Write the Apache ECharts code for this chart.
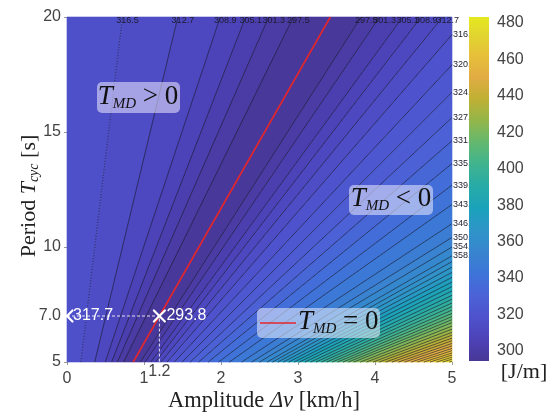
<!DOCTYPE html>
<html><head><meta charset="utf-8">
<script src="https://cdn.jsdelivr.net/npm/echarts@6/dist/echarts.min.js"></script>
<style>html,body{margin:0;padding:0;background:#fff}#c{width:553px;height:417px}</style>
</head><body><div id="c"></div>
<script>
// ---------------- data ----------------
const xTicks = [0, 1, 2, 3, 4, 5];
const yTicks = [5, 7, 10, 15, 20];
const colorbarTicks = [300, 320, 340, 360, 380, 400, 420, 440, 460, 480];
const colorbarMin = 294.4;
const colorbarMax = 483.3;
const energyAtZeroAmplitude = 317.7;   // value at Δv = 0
const energyMin = 293.8;               // value on the T_MD = 0 valley
// Contour lines are (nearly) rays Δv = slope · T ; slope read where each line meets the frame
const leftLevels = [316.5, 312.7, 308.9, 305.1, 301.3, 297.5];
const leftSlopes = [0.036, 0.072, 0.0995, 0.116, 0.131, 0.147];
const rightLevels = [297.5, 301.3, 305.1, 308.9, 312.7, 316.5, 320.3, 324.1, 327.9, 331.7,
  335.5, 339.3, 343.1, 346.9, 350.7, 354.5, 358.3, 362.1, 365.9, 369.7,
  373.5, 377.3, 381.1, 384.9, 388.7, 392.5, 396.3, 400.1, 403.9, 407.7,
  411.5, 415.3, 419.1, 422.9, 426.7, 430.5, 434.3, 438.1, 441.9, 445.7,
  449.5, 453.3, 457.1, 460.9, 464.7, 468.5, 472.3, 476.1, 479.9];
const rightSlopes = [0.191, 0.203, 0.218, 0.230, 0.244, 0.260, 0.279, 0.299, 0.320, 0.342,
  0.367, 0.394, 0.422, 0.454, 0.480, 0.500, 0.520, 0.534, 0.548, 0.562,
  0.576, 0.590, 0.604, 0.618, 0.633, 0.647, 0.661, 0.675, 0.689, 0.703,
  0.717, 0.731, 0.745, 0.762, 0.778, 0.795, 0.811, 0.828, 0.844, 0.861,
  0.877, 0.894, 0.910, 0.927, 0.943, 0.960, 0.976, 0.993, 1.009];
const rightEdgeLabelCount = 17;   // right contours labelled (top or right frame)
const tmdZeroLine = [[0.86, 5], [3.42, 20]];
const refPoint = [0, 7.0], refValue = '317.7';
const opPoint = [1.2, 7.0], opValue = '293.8';

// ---------------- colour map (parula, as printed) ----------------
const parula = [
  [0.2422,0.1504,0.6603],[0.2706,0.2147,0.8364],[0.2813,0.3006,0.9414],[0.2699,0.3892,0.9906],
  [0.1963,0.4847,0.9892],[0.1687,0.5703,0.9359],[0.1248,0.6459,0.8883],[0.0297,0.7082,0.8163],
  [0.0964,0.7500,0.7120],[0.2161,0.7843,0.5923],[0.3909,0.8029,0.4354],[0.6174,0.7876,0.2612],
  [0.8203,0.7498,0.1535],[0.9728,0.7298,0.2394],[0.9892,0.8136,0.1885],[0.9597,0.9135,0.1423],
  [0.9769,0.9839,0.0805]];
const parulaPos = [0,4,8,12,16,20,24,28,32,36,40,44,48,52,56,60,63].map(i => i / 63);
const mute = [95, 95, 110];
function toRGB(c, t) {
  const mk = 0.30 - 0.18 * t;
  return 'rgb(' + c.map((v, j) => Math.round(v * 255 * (1 - mk) + mute[j] * mk)).join(',') + ')';
}
function pal(v) {
  let t = (v - colorbarMin) / (colorbarMax - colorbarMin);
  t = Math.max(0, Math.min(1, t));
  for (let i = 0; i < parulaPos.length - 1; i++) {
    if (t <= parulaPos[i + 1]) {
      const f = (t - parulaPos[i]) / (parulaPos[i + 1] - parulaPos[i]);
      return toRGB(parula[i].map((a, j) => a + (parula[i + 1][j] - a) * f), t);
    }
  }
  return toRGB(parula[parula.length - 1], 1);
}
const barStops = parula.map((c, i) => ({offset: parulaPos[i], color: toRGB(c, parulaPos[i])}));

// ---------------- geometry helpers ----------------
const frame = [[0, 5], [5, 5], [5, 20], [0, 20]];
function clipHalf(poly, s, keepRight) {
  const out = [];
  const f = p => (p[0] - s * p[1]) * (keepRight ? 1 : -1);
  for (let i = 0; i < poly.length; i++) {
    const a = poly[i], b = poly[(i + 1) % poly.length];
    const fa = f(a), fb = f(b);
    if (fa >= 0) out.push(a);
    if ((fa >= 0) !== (fb >= 0)) {
      const t = fa / (fa - fb);
      out.push([a[0] + t * (b[0] - a[0]), a[1] + t * (b[1] - a[1])]);
    }
  }
  return out;
}
function rayEnds(s) {
  if (5 * s > 5) return null;
  const p1 = [5 * s, 5];
  const p2 = (20 * s <= 5) ? [20 * s, 20] : [5, 5 / s];
  return [p1, p2];
}

// bands between successive contour rays
const bounds = [0].concat(leftSlopes, rightSlopes, [10]);
const boundLevel = [energyAtZeroAmplitude].concat(leftLevels, rightLevels, [colorbarMax]);
const bandData = [];
for (let i = 0; i < bounds.length - 1; i++) {
  const a = boundLevel[i], b = boundLevel[i + 1];
  const v = (a === b) ? (a + energyMin) / 2 : (a + b) / 2;
  bandData.push([bounds[i], bounds[i + 1], v]);
}
const contourData = leftSlopes.map((s, i) => [s, leftLevels[i], i === 0 ? 1 : 0])
  .concat(rightSlopes.map((s, i) => [s, rightLevels[i], 0]));

const labelTexts = [], labelData = [];
leftLevels.forEach((lv, i) => { labelData.push([leftSlopes[i] * 20, 20, 0]); labelTexts.push(lv.toFixed(1)); });
rightLevels.slice(0, rightEdgeLabelCount).forEach((lv, i) => {
  const s = rightSlopes[i];
  if (s * 20 <= 5) labelData.push([s * 20, 20, 0]); else labelData.push([5, 5 / s, 1]);
  labelTexts.push(lv.toFixed(1));
});

const SANS = 'Liberation Sans', SERIF = 'Liberation Serif';
const chart = echarts.init(document.getElementById('c'), null, {width: 553, height: 417});

const boxRich = {
  t: {fontFamily: SERIF, fontStyle: 'italic', fontSize: 27, lineHeight: 29, fill: '#111'},
  s: {fontFamily: SERIF, fontStyle: 'italic', fontSize: 15, lineHeight: 12, verticalAlign: 'bottom', fill: '#111'},
  n: {fontFamily: SERIF, fontSize: 27, lineHeight: 29, fill: '#111'}
};

chart.setOption({
  animation: false,
  backgroundColor: '#ffffff',
  grid: [
    {left: 67, right: 101, top: 17, bottom: 55},
    {left: 469, width: 20, top: 17, bottom: 56}
  ],
  xAxis: [
    {gridIndex: 0, type: 'value', min: 0, max: 5, interval: 1,
      axisLine: {show: false}, splitLine: {show: false},
      axisTick: {show: true, length: 3, lineStyle: {color: '#999'}},
      axisLabel: {fontFamily: SANS, fontSize: 16, color: '#444', margin: 9}},
    {gridIndex: 1, type: 'value', min: 0, max: 1, show: false}
  ],
  yAxis: [
    {gridIndex: 0, type: 'value', min: 5, max: 20,
      axisLine: {show: false}, splitLine: {show: false},
      axisTick: {show: true, length: 3, customValues: [5, 10, 15, 20], lineStyle: {color: '#999'}},
      axisLabel: {fontFamily: SANS, fontSize: 16, color: '#444', margin: 6,
        customValues: yTicks, formatter: v => (v === 7 ? '7.0' : String(v))}},
    {gridIndex: 1, type: 'value', min: colorbarMin, max: colorbarMax, position: 'right',
      axisLine: {show: false}, splitLine: {show: false},
      axisTick: {show: true, length: 3, customValues: colorbarTicks, lineStyle: {color: '#777'}},
      axisLabel: {fontFamily: SANS, fontSize: 16, color: '#444', margin: 8, customValues: colorbarTicks}}
  ],
  series: [
    { // filled bands
      type: 'custom', xAxisIndex: 0, yAxisIndex: 0, silent: true, z: 1,
      data: bandData,
      renderItem: (params, api) => {
        const d = bandData[params.dataIndex];
        let poly = clipHalf(frame, d[0], true);
        poly = clipHalf(poly, d[1], false);
        if (poly.length < 3) return null;
        const c = pal(d[2]);
        return {type: 'polygon', shape: {points: poly.map(p => api.coord(p))},
          style: {fill: c, stroke: c, lineWidth: 0.6}};
      }
    },
    { // contour lines
      type: 'custom', xAxisIndex: 0, yAxisIndex: 0, silent: true, z: 2,
      data: contourData,
      renderItem: (params, api) => {
        const d = contourData[params.dataIndex];
        const e = rayEnds(d[0]);
        if (!e) return null;
        const a = api.coord(e[0]), b = api.coord(e[1]);
        return {type: 'line', shape: {x1: a[0], y1: a[1], x2: b[0], y2: b[1]},
          style: {stroke: 'rgba(15,15,35,0.85)', lineWidth: 0.7, lineDash: d[2] ? [1.2, 1.6] : null}};
      }
    },
    { // contour labels
      type: 'custom', xAxisIndex: 0, yAxisIndex: 0, silent: true, z: 3,
      data: labelData,
      renderItem: (params, api) => {
        const d = labelData[params.dataIndex];
        const p = api.coord([d[0], d[1]]);
        const txt = labelTexts[params.dataIndex];
        const top = d[2] === 0;
        return {type: 'text', style: {text: txt, x: top ? p[0] + 5 : p[0] + 1, y: top ? p[1] + 4 : p[1],
          align: top ? 'center' : 'left', verticalAlign: 'middle',
          textAlign: top ? 'center' : 'left', textVerticalAlign: 'middle',
          font: '9px "Liberation Sans"', fill: '#1d1d2e'}};
      }
    },
    { // T_MD = 0 line
      type: 'line', xAxisIndex: 0, yAxisIndex: 0, data: tmdZeroLine, symbol: 'none', silent: true, z: 4,
      lineStyle: {color: '#e3262c', width: 1.6}
    },
    { // dashed guides
      type: 'line', xAxisIndex: 0, yAxisIndex: 0, data: [refPoint, opPoint, [opPoint[0], 5]],
      symbol: 'none', silent: true, z: 4,
      lineStyle: {color: 'rgba(255,255,255,0.85)', width: 1, type: [3, 2]}
    },
    { // × markers (clipped at frame)
      type: 'custom', xAxisIndex: 0, yAxisIndex: 0, silent: true, z: 5,
      data: [refPoint, opPoint],
      renderItem: (params, api) => {
        const p = api.coord([api.value(0), api.value(1)]);
        const left = params.coordSys.x;
        const h = 5.5;
        const arms = [[-h, -h], [h, h], [-h, h], [h, -h]];
        const kids = arms.map(a => {
          let x2 = p[0] + a[0], y2 = p[1] + a[1];
          let x1 = p[0], y1 = p[1];
          if (x2 < left) { if (x1 <= left) return null; const t = (left - x1) / (x2 - x1); x2 = left; y2 = y1 + t * a[1]; }
          return {type: 'line', shape: {x1: x1, y1: y1, x2: x2, y2: y2}, style: {stroke: '#fff', lineWidth: 2.2, lineCap: 'round'}};
        }).filter(Boolean);
        return {type: 'group', children: kids};
      }
    },
    { // value texts + "1.2" axis label
      type: 'custom', xAxisIndex: 0, yAxisIndex: 0, silent: true, z: 6,
      data: [refPoint, opPoint, [opPoint[0], 5]],
      renderItem: (params, api) => {
        const i = params.dataIndex;
        const p = api.coord([api.value(0), api.value(1)]);
        if (i === 2) {
          return {type: 'text', style: {text: String(opPoint[0]), x: p[0], y: p[1] + 10,
            align: 'center', verticalAlign: 'middle', textAlign: 'center', textVerticalAlign: 'middle',
            font: '16px "Liberation Sans"', fill: '#444'}};
        }
        return {type: 'text', style: {text: i === 0 ? refValue : opValue, x: p[0] + (i === 0 ? 6 : 7), y: p[1],
          align: 'left', verticalAlign: 'middle', textAlign: 'left', textVerticalAlign: 'middle',
          font: '16px "Liberation Sans"', fill: '#ffffff'}};
      }
    },
    { // colour bar
      type: 'custom', xAxisIndex: 1, yAxisIndex: 1, silent: true, z: 10,
      data: [[0, colorbarMin]],
      renderItem: (params, api) => {
        const a = api.coord([0, colorbarMax]), b = api.coord([1, colorbarMin]);
        return {type: 'rect', shape: {x: a[0], y: a[1], width: b[0] - a[0], height: b[1] - a[1]},
          style: {fill: {type: 'linear', x: 0, y: 1, x2: 0, y2: 0, colorStops: barStops}}};
      }
    }
  ],
  graphic: [
    {type: 'rect', shape: {x: 97, y: 82, width: 83, height: 31, r: 5}, style: {fill: 'rgba(236,234,255,0.55)'}, z: 20},
    {type: 'text', z: 21, style: {x: 138, y: 97, align: 'center', verticalAlign: 'middle', textAlign: 'center', textVerticalAlign: 'middle',
      text: '{t|T}{s|MD}{n| > 0}', rich: boxRich}},
    {type: 'rect', shape: {x: 349, y: 185, width: 84, height: 30, r: 5}, style: {fill: 'rgba(236,236,255,0.55)'}, z: 20},
    {type: 'text', z: 21, style: {x: 391, y: 199, align: 'center', verticalAlign: 'middle', textAlign: 'center', textVerticalAlign: 'middle',
      text: '{t|T}{s|MD}{n| < 0}', rich: boxRich}},
    {type: 'rect', shape: {x: 257, y: 308, width: 123, height: 30, r: 5}, style: {fill: 'rgba(236,240,255,0.55)'}, z: 20},
    {type: 'line', shape: {x1: 260, y1: 323, x2: 296, y2: 323}, style: {stroke: '#e3262c', lineWidth: 1.6}, z: 21},
    {type: 'text', z: 21, style: {x: 298, y: 322, align: 'left', verticalAlign: 'middle', textAlign: 'left', textVerticalAlign: 'middle',
      text: '{t|T}{s|MD}{n| = 0}', rich: boxRich}},
    {type: 'text', z: 21, style: {x: 264, y: 401, align: 'center', verticalAlign: 'middle', textAlign: 'center', textVerticalAlign: 'middle',
      text: '{n|Amplitude }{i|Δv}{n| [km/h]}',
      rich: {n: {fontFamily: SERIF, fontSize: 22.5, fill: '#222'},
             i: {fontFamily: SERIF, fontStyle: 'italic', fontSize: 22.5, fill: '#222'}}}},
    {type: 'text', z: 21, x: 29, y: 196, rotation: Math.PI / 2,
      style: {x: 0, y: 0, align: 'center', verticalAlign: 'middle', textAlign: 'center', textVerticalAlign: 'middle',
      text: '{n|Period }{i|T}{s|cyc}{n| [s]}',
      rich: {n: {fontFamily: SERIF, fontSize: 22, lineHeight: 25, fill: '#222'},
             i: {fontFamily: SERIF, fontStyle: 'italic', fontSize: 22, lineHeight: 25, fill: '#222'},
             s: {fontFamily: SERIF, fontStyle: 'italic', fontSize: 14, lineHeight: 11, verticalAlign: 'bottom', fill: '#222'}}}},
    {type: 'text', z: 21, style: {x: 524, y: 372, align: 'center', verticalAlign: 'middle', textAlign: 'center', textVerticalAlign: 'middle',
      text: '[J/m]', font: '22px "Liberation Serif"', fill: '#222'}}
  ]
});
</script>
</body></html>
